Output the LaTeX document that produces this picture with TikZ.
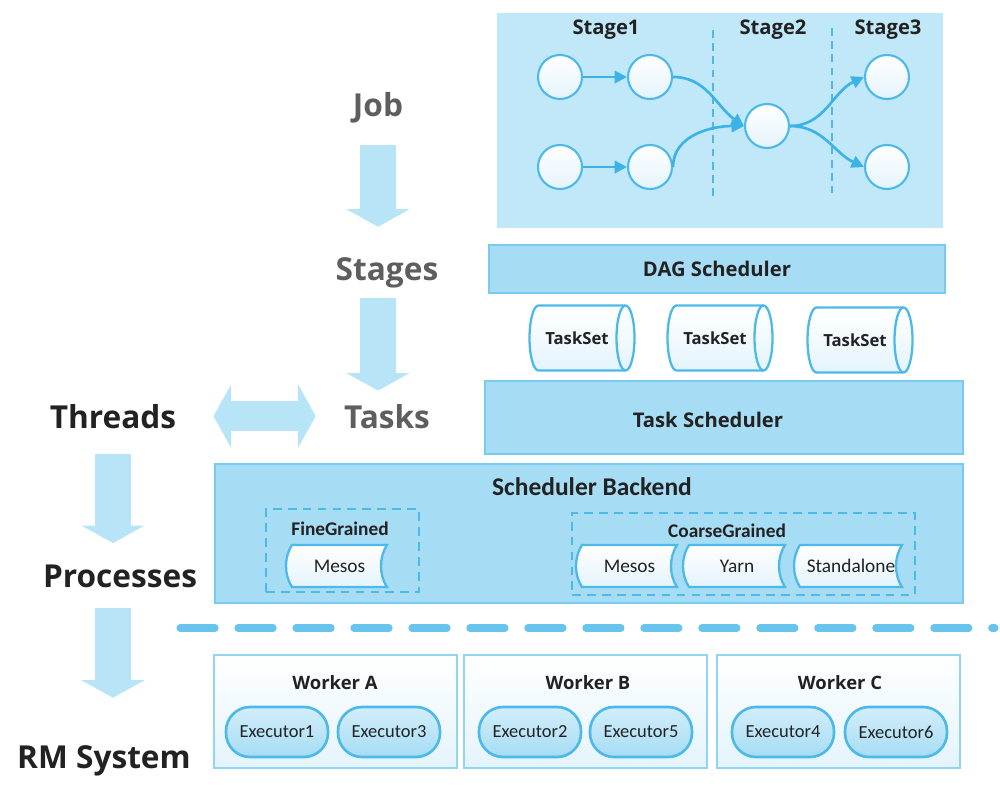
\documentclass[tikz,border=0pt]{standalone}
\usepackage{fontspec}
\setmainfont{Open Sans}
\newfontfamily\calfont{Carlito}
\usetikzlibrary{arrows.meta, positioning, calc, shapes.geometric}

\definecolor{panelblue}{HTML}{C0E8F8}
\definecolor{barblue}{HTML}{A6DCF4}
\definecolor{edgeblue}{HTML}{76CBEF}
\definecolor{lineblue}{HTML}{4DB9E9}
\definecolor{arrowblue}{HTML}{3BB3E7}
\definecolor{fatblue}{HTML}{B8E4F7}
\definecolor{textdark}{HTML}{222222}
\definecolor{textgray}{HTML}{5E5E5E}
\definecolor{softblue}{HTML}{E4F4FC}
\definecolor{execblue}{HTML}{D2EEFA}

% stored-data box: name, centre, half width, text
\newcommand{\tapebox}[4]{%
  \coordinate (#1-c) at (#2);
  \draw[tapeline] ($(#1-c)+(-#3,-21)$) .. controls +(-8,12) and +(-8,-12) .. ($(#1-c)+(-#3,21)$)
    -- ($(#1-c)+(#3,21)$) .. controls +(-8,-12) and +(-8,12) .. ($(#1-c)+(#3,-21)$) -- cycle;
  \node[tapetext] (#1) at (#1-c) {#4};
}

% lying cylinder: name, centre, text
\newcommand{\tasksetbox}[3]{%
  \coordinate (#1-c) at (#2);
  \draw[tasksetline] ($(#1-c)+(-43.5,-32.5)$) -- ($(#1-c)+(43.5,-32.5)$)
    arc[start angle=90, end angle=-90, x radius=0.18cm, y radius=0.65cm]
    -- ($(#1-c)+(-43.5,32.5)$)
    arc[start angle=270, end angle=90, x radius=0.18cm, y radius=0.65cm] -- cycle;
  \draw[lineblue, line width=1.3pt] ($(#1-c)+(43.5,-32.5)$)
    arc[start angle=90, end angle=270, x radius=0.18cm, y radius=0.65cm];
  \node[tasksettext] (#1) at ($(#1-c)+(-5,0)$) {#3};
}

\begin{document}
\begin{tikzpicture}[
    x=0.02cm, y=-0.02cm,
    bar/.style={draw=edgeblue, fill=barblue, line width=1pt, font=\bfseries\fontsize{11.5}{13}\selectfont,
                text=textdark},
    dot/.style={circle, draw=lineblue, line width=1.2pt, minimum size=0.88cm,
                top color=white, bottom color=softblue},
    dagarrow/.style={arrowblue, line width=1.5pt, -{Triangle[length=7pt, width=7pt]}},
    stagelbl/.style={font=\bfseries\fontsize{11.5}{13}\selectfont, text=textdark},
    tasksetline/.style={draw=lineblue, line width=1.3pt, top color=white, bottom color=softblue},
    tasksettext/.style={font=\bfseries\fontsize{9.5}{11}\selectfont, text=textdark},
    grainbox/.style={draw=lineblue, line width=1pt, dash pattern=on 5pt off 3.5pt},
    grainlbl/.style={font=\calfont\bfseries\fontsize{11}{13}\selectfont, text=textdark},
    tapeline/.style={draw=lineblue, line width=1.3pt, top color=white, bottom color=softblue},
    tapetext/.style={font=\calfont\fontsize{11}{13}\selectfont, text=textdark},
    worker/.style={draw=edgeblue!80, line width=1pt, top color=white, bottom color=softblue,
                   minimum width=4.86cm, minimum height=2.26cm},
    workerlbl/.style={font=\bfseries\fontsize{10.5}{12}\selectfont, text=textdark},
    executor/.style={draw=lineblue, line width=1.5pt, rounded corners=0.48cm,
                     top color=execblue, bottom color=barblue,
                     minimum width=2.04cm, minimum height=1cm,
                     font=\calfont\fontsize{10.5}{12}\selectfont, text=textdark},
    level/.style={font=\bfseries\fontsize{18}{20}\selectfont, text=textgray, inner sep=0pt, anchor=base},
    layer/.style={font=\bfseries\fontsize{18}{20}\selectfont, text=textdark, inner sep=0pt, anchor=base},
    fatarrow/.style={draw=fatblue, line width=20.5pt,
                     -{Triangle[length=10pt, width=36pt, line width=0pt]}},
    fatboth/.style={draw=fatblue, line width=17pt,
                    {Triangle[length=10pt, width=36pt, line width=0pt]}-{Triangle[length=10pt, width=36pt, line width=0pt]}},
    sepline/.style={lineblue!85, line width=4pt, line cap=round, dash pattern=on 20pt off 13pt}
]
\useasboundingbox (0,0) rectangle (1000,787);

% job panel with stages
\node[fill=panelblue, minimum width=8.92cm, minimum height=4.3cm] (jobpanel) at (720,120.5) {};
\node[stagelbl] (stage1) at (606,30) {Stage1};
\node[stagelbl] (stage2) at (773,30) {Stage2};
\node[stagelbl] (stage3) at (888,30) {Stage3};
\draw[lineblue, line width=1.2pt, dash pattern=on 4.5pt off 3pt] (713,30) -- (713,197);
\draw[lineblue, line width=1.2pt, dash pattern=on 4.5pt off 3pt] (832,28) -- (832,193);

\node[dot] (s1a) at (560,77) {};
\node[dot] (s1b) at (650,77) {};
\node[dot] (s1c) at (560,167) {};
\node[dot] (s1d) at (650,167) {};
\node[dot] (s2)  at (767,126) {};
\node[dot] (s3a) at (887,77) {};
\node[dot] (s3b) at (887,167) {};

\draw[dagarrow] (s1a) -- (s1b);
\draw[dagarrow] (s1c) -- (s1d);
\draw[dagarrow] (s1b.east) to[out=0, in=145] (s2.west);
\draw[dagarrow] (s1d.east) to[out=90, in=180] (s2.west);
\draw[dagarrow] (s2.east) to[out=0, in=205] (s3a.west);
\draw[dagarrow] (s2.east) to[out=0, in=155] (s3b.west);

% schedulers
\node[bar, minimum width=9.12cm, minimum height=0.96cm] (dag) at (717,269) {DAG Scheduler};
\tasksetbox{ts1}{582,338}{TaskSet}
\tasksetbox{ts2}{720,338}{TaskSet}
\tasksetbox{ts3}{860,340}{TaskSet}
\node[bar, minimum width=9.56cm, minimum height=1.46cm] (tasksched) at (724,417.5) {};
\node[font=\bfseries\fontsize{11.5}{13}\selectfont, text=textdark] (taskschedlbl) at (708,420) {Task Scheduler};

% scheduler backend
\node[bar, minimum width=14.96cm, minimum height=2.78cm] (backend) at (589,533.5) {};
\node[font=\calfont\bfseries\fontsize{14.5}{16}\selectfont, text=textdark] (backendlbl) at (592,487) {Scheduler Backend};
\node[grainbox, minimum width=3.06cm, minimum height=1.66cm] (fine) at (342.5,550.5) {};
\node[grainlbl] (finelbl) at (340,529) {FineGrained};
\node[grainbox, minimum width=6.86cm, minimum height=1.64cm] (coarse) at (743.5,554) {};
\node[grainlbl] (coarselbl) at (727,531) {CoarseGrained};
\tapebox{finemesos}{339.5,566}{47.5}{Mesos}
\tapebox{coarsemesos}{629.5,566}{47.5}{Mesos}
\tapebox{yarn}{737,566}{48}{Yarn}
\tapebox{standalone}{851,566}{51}{Standalone}

\draw[sepline] (180,628) -- (995,628);

% workers
\node[worker] (workerA) at (335.5,711.5) {};
\node[worker] (workerB) at (585.5,711.5) {};
\node[worker] (workerC) at (838.5,711.5) {};
\node[workerlbl] at (335,683) {Worker A};
\node[workerlbl] at (588,683) {Worker B};
\node[workerlbl] at (840,683) {Worker C};
\node[executor] (ex1) at (277,732) {Executor1};
\node[executor] (ex3) at (389,732) {Executor3};
\node[executor] (ex2) at (530,732) {Executor2};
\node[executor] (ex5) at (641,732) {Executor5};
\node[executor] (ex4) at (783,732) {Executor4};
\node[executor] (ex6) at (896,732) {Executor6};

% left hand levels
\node[level] (job) at (378,117) {Job};
\node[level] (stages) at (387,280) {Stages};
\node[level] (tasks) at (387,428) {Tasks};
\node[layer] (threads) at (113,428) {Threads};
\node[layer] (processes) at (120,587) {Processes};
\node[layer] (rm) at (104,768) {RM System};

\draw[fatarrow, shorten <=0.42cm, shorten >=0.6cm] (job.south) -- (job.south |- stages.north);
\draw[fatarrow, shorten <=0.2cm, shorten >=0.26cm] (job.south |- stages.south) -- (job.south |- tasks.north);
\draw[fatboth, shorten <=0.74cm, shorten >=0.56cm] (threads.east) -- (tasks.west);
\draw[fatarrow, shorten <=0.5cm, shorten >=0.42cm] (threads.south) -- (threads.south |- processes.north);
\draw[fatarrow, shorten <=0.4cm, shorten >=0.94cm] (threads.south |- processes.south) -- (threads.south |- rm.north);

\end{tikzpicture}
\end{document}
